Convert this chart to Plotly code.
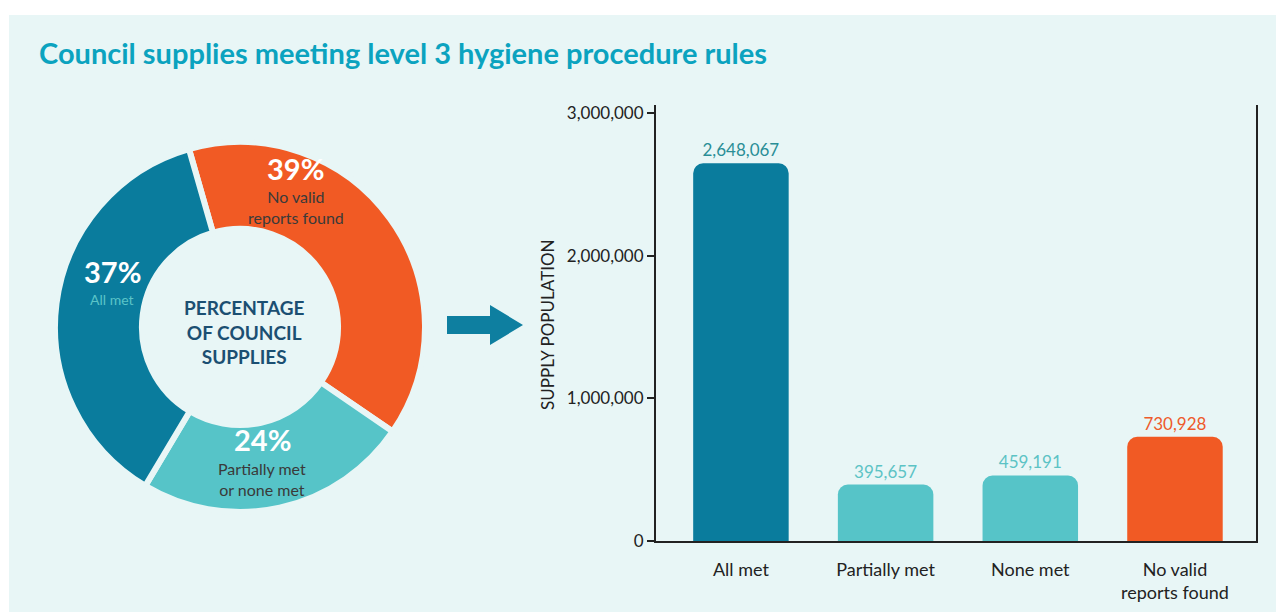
import plotly.graph_objects as go

# Dati
pie_labels = ["No valid reports found", "Partially met or none met", "All met"]
pie_values = [39, 24, 37]
pie_colors = ["#F15A24", "#56C4C8", "#0A7C9D"]

bar_categories = ["All met", "Partially met", "None met", "No valid<br>reports found"]
bar_values = [2648067, 395657, 459191, 730928]
bar_colors = ["#0A7C9D", "#56C4C8", "#56C4C8", "#F15A24"]
bar_text_colors = ["#2A8E96", "#5CC3C5", "#5CC3C5", "#EE5A2B"]

y_ticks = [0, 1000000, 2000000, 3000000]

# la pagina ha 8px di margine: figura ridotta per stare nella finestra 1284x612
OFF = 8
W, H = 1284 - OFF, 612 - OFF
FONT = "Lato"
BG = "#E8F6F6"


def px(x):
    return (x - OFF) / W


def py(y):
    return 1 - (y - OFF) / H


fig = go.Figure()

# Ciambella
fig.add_trace(go.Pie(
    labels=pie_labels,
    values=pie_values,
    hole=0.53,
    sort=False,
    direction="clockwise",
    rotation=-16,
    marker=dict(colors=pie_colors, line=dict(color=BG, width=6)),
    textinfo="none",
    showlegend=False,
    domain=dict(x=[px(55), px(425)], y=[py(512), py(142)]),
))

# Barre
fig.add_trace(go.Bar(
    x=bar_categories,
    y=bar_values,
    marker=dict(color=bar_colors, cornerradius=10, line=dict(width=0)),
    text=[f"{v:,}" for v in bar_values],
    textposition="outside",
    textfont=dict(family=FONT, size=17, color=bar_text_colors),
    cliponaxis=False,
    showlegend=False,
))

fig.update_layout(
    width=W, height=H,
    margin=dict(l=0, r=0, t=0, b=0),
    paper_bgcolor="white",
    plot_bgcolor="rgba(0,0,0,0)",
    bargap=0.34,
    font=dict(family=FONT, color="#222222"),
    xaxis=dict(
        domain=[px(656), px(1256)],
        range=[-0.587, 3.56],
        showline=True, linecolor="#222222", linewidth=2,
        showgrid=False, zeroline=False, ticks="",
        tickfont=dict(family=FONT, size=18, color="#222222"),
        ticklabelstandoff=11,
        automargin=False,
    ),
    yaxis=dict(
        domain=[py(541), py(105)],
        range=[0, 3056000],
        tickvals=y_ticks,
        tickformat=",",
        showline=True, linecolor="#222222", linewidth=2, mirror=True,
        ticks="outside", ticklen=7, tickwidth=2, tickcolor="#222222",
        showgrid=False, zeroline=False,
        tickfont=dict(family=FONT, size=17, color="#222222"),
        automargin=False,
    ),
    shapes=[
        # pannello di sfondo
        dict(type="rect", xref="paper", yref="paper", layer="below",
             x0=px(9), x1=1, y0=0, y1=py(15),
             fillcolor=BG, line=dict(width=0)),
        # freccia
        dict(type="path", xref="paper", yref="paper",
             path=(f"M {px(447)},{py(316)} L {px(490)},{py(316)} L {px(490)},{py(305)} "
                   f"L {px(523)},{py(325)} L {px(490)},{py(345)} L {px(490)},{py(334)} "
                   f"L {px(447)},{py(334)} Z"),
             fillcolor="#0E7FA0", line=dict(width=0)),
    ],
)

annotations = [
    dict(text="<b>Council supplies meeting level 3 hygiene procedure rules</b>",
         x=px(37), y=py(52), xanchor="left",
         font=dict(size=29, color="#0BA3BF")),
    dict(text="<b>PERCENTAGE<br>OF COUNCIL<br>SUPPLIES</b>",
         x=px(244), y=py(332),
         font=dict(size=19, color="#1B4F72")),
    dict(text="<b>39%</b>", x=px(295), y=py(168), font=dict(size=29, color="white")),
    dict(text="No valid<br>reports found", x=px(296), y=py(207),
         font=dict(size=16, color="#3A3A3A")),
    dict(text="<b>37%</b>", x=px(112), y=py(271), font=dict(size=29, color="white")),
    dict(text="All met", x=px(112), y=py(299), font=dict(size=14, color="#5BC4C8")),
    dict(text="<b>24%</b>", x=px(262), y=py(439), font=dict(size=29, color="white")),
    dict(text="Partially met<br>or none met", x=px(262), y=py(479),
         font=dict(size=16, color="#3A3A3A")),
    dict(text="SUPPLY POPULATION", x=px(547), y=py(325), textangle=-90,
         font=dict(size=17, color="#222222")),
]
for a in annotations:
    a.setdefault("xref", "paper")
    a.setdefault("yref", "paper")
    a.setdefault("showarrow", False)
    a.setdefault("xanchor", "center")
    a.setdefault("yanchor", "middle")
    fig.add_annotation(**a)

fig.write_html("out.html")
